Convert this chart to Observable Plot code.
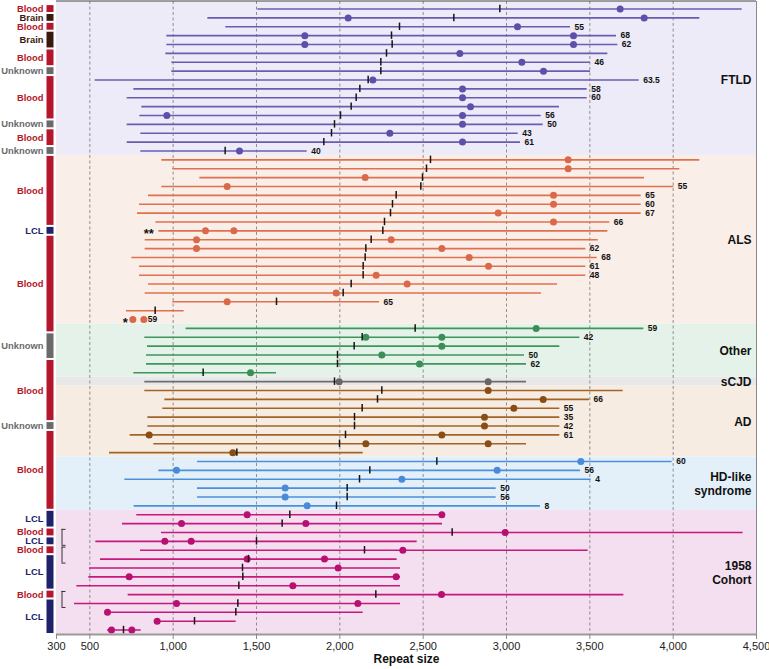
<!DOCTYPE html>
<html><head><meta charset="utf-8">
<script src="https://cdn.jsdelivr.net/npm/d3@7"></script>
<script src="https://cdn.jsdelivr.net/npm/@observablehq/plot@0.6"></script>
<style>html,body{margin:0;padding:0;background:#fff}</style>
</head><body><div id="chart"></div>
<script>
// ---- data ----
const groups = ["FTLD", "ALS", "Other", "sCJD", "AD", "HD-like\nsyndrome", "1958\nCohort"];
const groupSizes = [17, 19, 6, 1, 8, 6, 14];
const sampleTypes = [
  "Blood","Brain","Blood","Brain","Brain","Blood","Blood","Unknown","Blood","Blood","Blood","Blood","Blood","Unknown","Blood","Blood","Unknown",
  "Blood","Blood","Blood","Blood","Blood","Blood","Blood","Blood","LCL","Blood","Blood","Blood","Blood","Blood","Blood","Blood","Blood","Blood","Blood",
  "Blood","Unknown","Unknown","Unknown","Blood","Blood",
  "Blood",
  "Blood","Blood","Blood","Blood","Unknown","Blood","Blood","Blood",
  "Blood","Blood","Blood","Blood","Blood","Blood",
  "LCL","LCL","Blood","LCL","Blood","LCL","LCL","LCL","LCL","Blood","LCL","LCL","LCL","LCL"
];
const starts = [
  1508,1208,1316,962,962,956,992,992,532,764,724,812,800,724,806,724,806,
  932,998,1160,932,852,798,786,896,914,832,832,752,798,798,852,832,998,720,758,
  1078,830,846,840,840,764,
  830,
  830,950,938,848,848,742,884,618,
  1146,914,710,1146,1146,766,
  782,696,930,536,804,564,498,494,422,730,408,600,904,606
];
const ends = [
  4414,4160,3384,3660,3668,3608,3504,3504,3796,3484,3484,3318,3208,3220,3070,3084,1804,
  4160,4040,3828,4004,3808,3808,3808,3620,3608,3550,3476,3544,3476,3476,3306,3210,2238,1066,824,
  3824,3440,3320,3108,3120,1620,
  3120,
  3700,3498,3320,3320,3320,3320,3120,2140,
  3994,3444,3508,2938,2938,3204,
  2620,2616,4420,2464,3490,2344,2364,2364,2364,3704,2364,2140,1378,808
];
const modes = [
  2960,2684,2358,2310,2314,2280,2246,2246,2170,2120,2098,2068,2004,1968,1950,1904,1312,
  2544,2520,2496,2486,2338,2316,2304,2268,2258,2188,2156,2152,2140,2140,2068,2020,1620,892,null,
  2452,2134,2086,1986,1986,1180,
  1968,
  2252,2226,2134,2088,2088,2034,1998,1382,
  2582,2180,2118,2044,2044,1980,
  1700,1654,2674,1500,2148,1452,1416,1418,1394,2216,1388,1376,1128,702
];
const dots = [
  [3682],[2050,3826],[3066],[1790,3402],[1790,3402],[2720],[3092],[3222],[2198],[2736],[2736],[2784],[962,2736],[2736],[2300],[2736],[1398],
  [3370],[3370],[2152],[1324],[3282],[3282],[2950],[3282],[1194,1364],[1140,2308],[1140,2612],[2776],[2892],[2218],[2404],[1978],[1324],[],[758,824],
  [3178],[2156,2612],[2612],[2252],[2478],[1464],
  [1996,2890],
  [2890],[3220],[3044],[2868],[2868],[856,2612],[2156,2890],[1358],
  [3446],[1020,2944],[2372],[1672],[1672],[1804],
  [1444,2612],[1050,1796],[2992],[950,1108],[2378],[1444,1908],[1990],[736,2338],[1718],[2610],[1020,2108],[606],[904],[630,752]
];
const ages = [
  "","","55","68","62","","46","","63.5","58","60","","56","50","43","61","40",
  "","","","55","65","60","67","66","","","62","68","61","48","","","65","","59",
  "59","42","","50","62","",
  "",
  "","66","55","35","42","61","","",
  "60","56","4","50","56","8",
  "","","","","","","","","","","","","",""
];
const notes = [{row: 25, text: "**"}, {row: 35, text: "*"}];
const brackets = [[59, 60], [61, 62], [66, 67]];
const xTicks = [300, 500, 1000, 1500, 2000, 2500, 3000, 3500, 4000, 4500];
const gridValues = [500, 1000, 1500, 2000, 2500, 3000, 3500, 4000];

// ---- styles ----
const bgColors = ["#ecebf7", "#faeee8", "#e5f2e9", "#e8e8e8", "#f6ece2", "#e3f0fa", "#f3dff0"];
const lineColors = ["#6a5cb0", "#e0704e", "#3f955a", "#6e6e6e", "#a0632a", "#4d90d9", "#c8177e"];
const dotColors = ["#5e4fab", "#d9694a", "#3b8f56", "#666666", "#8a4d15", "#4a8ad8", "#b81071"];
const typeColors = {Blood: "#b5162b", Brain: "#3a1a0c", Unknown: "#6a6a6a", LCL: "#1d226b"};

// ---- build ----
const xDomain = [300, 4500];
const yDomain = [-0.85, 70.5];
const rows = [];
const groupSpans = [];
let k = 0;
groupSizes.forEach((n, g) => {
  groupSpans.push({g, name: groups[g], first: k, last: k + n - 1});
  for (let j = 0; j < n; j++, k++) {
    rows.push({i: k, g, type: sampleTypes[k], start: starts[k], end: ends[k], mode: modes[k], dots: dots[k], age: ages[k]});
  }
});
const runs = [];
rows.forEach(r => {
  const last = runs[runs.length - 1];
  if (last && last.type === r.type) last.last = r.i;
  else runs.push({type: r.type, first: r.i, last: r.i});
});
const dotData = rows.flatMap(r => r.dots.map(v => ({x: v, y: r.i, g: r.g})));

const W = 769, H = 669, mL = 56, mR = 13, mT = 1, mB = 35;
const plotW = W - mL - mR;
const font = "'Liberation Sans', Arial, Helvetica, sans-serif";

const chart = Plot.plot({
  width: W, height: H,
  marginLeft: mL, marginRight: mR, marginTop: mT, marginBottom: mB,
  style: {fontFamily: font, fontSize: "11px", background: "#fff", overflow: "visible"},
  x: {domain: xDomain},
  y: {domain: yDomain, reverse: true, axis: null},
  color: {type: "identity"},
  marks: [
    Plot.rect(groupSpans, {
      x1: () => xDomain[0], x2: () => xDomain[1],
      y1: d => d.g === 0 ? yDomain[0] : d.first - 0.5, y2: d => d.last + 0.5,
      fill: d => bgColors[d.g]
    }),
    Plot.ruleX(gridValues, {stroke: "#858585", strokeWidth: 0.9, strokeDasharray: "3,2.5"}),
    Plot.ruleX([xDomain[1]], {stroke: "#8a8a8a", strokeWidth: 1}),
    Plot.ruleY([yDomain[0]], {stroke: "#444", strokeWidth: 1, dy: -0.5}),
    Plot.ruleY(rows.filter(r => r.end > r.start && r.i !== 35), {
      x1: "start", x2: "end", y: "i", stroke: r => lineColors[r.g], strokeWidth: 1.6
    }),
    Plot.dot(dotData, {x: "x", y: "y", r: 3.5, fill: d => dotColors[d.g], stroke: "none"}),
    Plot.ruleX(rows.filter(r => r.mode != null), {
      x: "mode", y1: r => r.i - 0.42, y2: r => r.i + 0.42, stroke: "#151515", strokeWidth: 1.5
    }),
    Plot.text(rows.filter(r => r.age), {
      x: "end", y: "i", text: "age", dx: 4, textAnchor: "start",
      fontWeight: "bold", fontSize: 8.5, fill: "#111"
    }),
    Plot.text(notes, {
      x: d => rows[d.row].start, y: "row", text: "text", dx: -5, dy: 3, textAnchor: "end",
      fontWeight: "bold", fontSize: 13, fill: "#111"
    }),
    Plot.ruleX(brackets, {x: () => xDomain[0], y1: d => d[0] - 0.35, y2: d => d[1] + 0.45, dx: 5.5, stroke: "#333", strokeWidth: 1}),
    Plot.ruleY(brackets, {y: d => d[0] - 0.35, insetLeft: 5.5, insetRight: plotW - 9.5, stroke: "#333", strokeWidth: 1}),
    Plot.ruleY(brackets, {y: d => d[1] + 0.45, insetLeft: 5.5, insetRight: plotW - 9.5, stroke: "#333", strokeWidth: 1}),
    Plot.ruleX(runs, {
      x: () => xDomain[0], y1: d => d.first - 0.5, y2: d => d.last + 0.5, dx: -6.5,
      insetTop: 1, insetBottom: 1, stroke: d => typeColors[d.type], strokeWidth: 7
    }),
    Plot.text(runs, {
      x: () => xDomain[0], y: d => (d.first + d.last) / 2, text: "type", dx: -13, textAnchor: "end",
      fill: d => typeColors[d.type], fontWeight: "bold", fontSize: 9.4
    }),
    Plot.text(groupSpans, {
      frameAnchor: "right", y: d => (d.first + d.last) / 2, text: "name", dx: -5, textAnchor: "end",
      fontWeight: "bold", fontSize: 12, lineHeight: 1.15, fill: "#111"
    }),
    Plot.ruleY([yDomain[1]], {stroke: "#9a9a9a", strokeWidth: 2.2}),
    Plot.axisX({
      ticks: xTicks, tickFormat: d3.format(","), tickSize: 5, tickPadding: 3,
      stroke: "#8a8a8a", fill: "#222", fontSize: 11, label: null
    }),
    Plot.text(["Repeat size"], {
      frameAnchor: "bottom", dy: 28, text: d => d, fontWeight: "bold", fontSize: 12, fill: "#111"
    })
  ]
});
document.getElementById("chart").appendChild(chart);
</script>
</body></html>
